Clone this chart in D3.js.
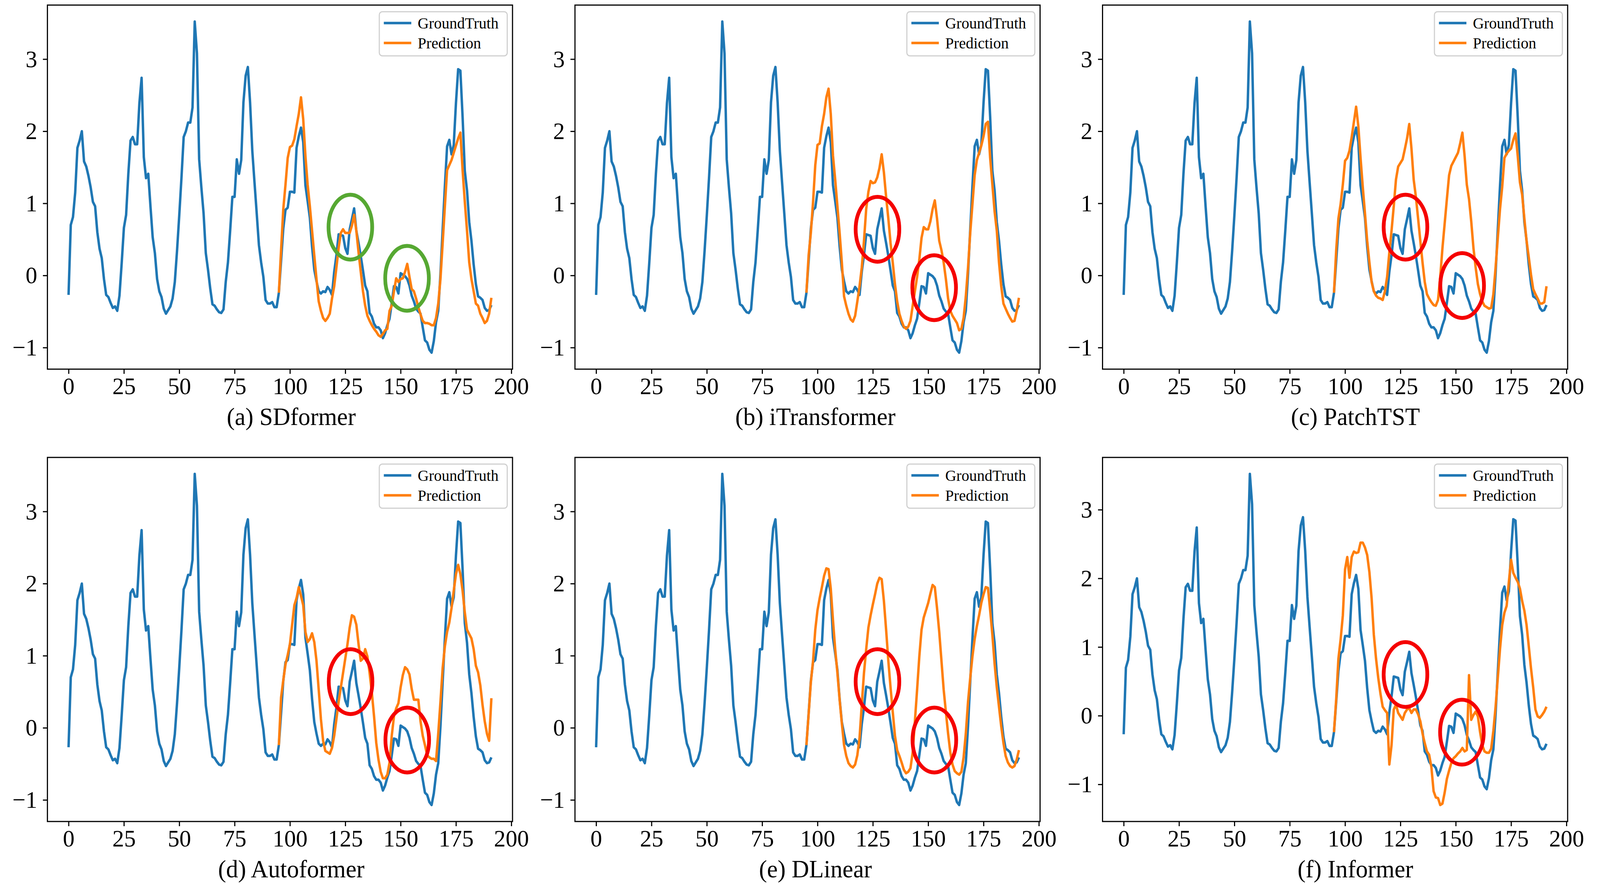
<!DOCTYPE html>
<html>
<head>
<meta charset="utf-8">
<script src="https://cdn.jsdelivr.net/npm/d3@7"></script>
<style>
  html, body { margin: 0; padding: 0; background: #fff; overflow: hidden; }
  svg { display: block; }
</style>
</head>
<body>
<div id="wrapper"></div>
<script>
// ground truth, time steps 0..191
const groundTruth = [
  -0.27, 0.70, 0.81, 1.15, 1.77, 1.87, 2.00, 1.58, 1.51, 1.38,
  1.22, 1.02, 0.96, 0.60, 0.37, 0.24, -0.05, -0.27, -0.30, -0.38,
  -0.45, -0.43, -0.49, -0.28, 0.17, 0.66, 0.84, 1.41, 1.87, 1.92,
  1.82, 1.82, 2.39, 2.74, 1.64, 1.35, 1.41, 0.96, 0.53, 0.31,
  -0.05, -0.22, -0.30, -0.46, -0.53, -0.48, -0.43, -0.32, -0.09, 0.34,
  0.83, 1.35, 1.92, 2.00, 2.12, 2.12, 2.33, 3.52, 3.08, 1.61,
  1.22, 0.86, 0.31, 0.08, -0.18, -0.40, -0.42, -0.47, -0.51, -0.52,
  -0.47, -0.09, 0.18, 0.62, 1.09, 1.09, 1.61, 1.41, 1.60, 2.40,
  2.77, 2.89, 2.40, 1.73, 1.29, 0.86, 0.42, 0.18, -0.02, -0.34,
  -0.39, -0.39, -0.37, -0.44, -0.44, -0.24, 0.20, 0.65, 0.91, 0.94,
  1.16, 1.16, 1.15, 1.77, 1.93, 2.05, 1.85, 1.25, 1.03, 0.80,
  0.40, 0.08, -0.08, -0.22, -0.25, -0.22, -0.23, -0.16, -0.20, -0.27,
  0.05, 0.28, 0.57, 0.56, 0.55, 0.38, 0.30, 0.64, 0.78, 0.93,
  0.62, 0.45, 0.27, 0.07, -0.14, -0.22, -0.52, -0.57, -0.67, -0.72,
  -0.72, -0.76, -0.87, -0.80, -0.69, -0.60, -0.38, -0.15, -0.16, -0.25,
  0.03, 0.01, -0.01, -0.05, -0.14, -0.28, -0.36, -0.46, -0.50, -0.53,
  -0.72, -0.90, -0.93, -1.03, -1.07, -0.91, -0.65, -0.49, 0.02, 0.64,
  1.24, 1.79, 1.88, 1.68, 1.81, 2.39, 2.86, 2.84, 2.20, 1.45,
  1.18, 0.74, 0.48, 0.15, -0.12, -0.29, -0.31, -0.34, -0.45, -0.49,
  -0.48, -0.41
]

// predictions, time steps 95..191
const predStart = 95
const sdformer = [
  -0.24, 0.35, 0.92, 1.26, 1.63, 1.78, 1.80, 1.89, 2.07, 2.24, 2.47,
  2.17, 1.66, 1.26, 0.96, 0.62, 0.28, -0.05, -0.36, -0.49, -0.59,
  -0.63, -0.59, -0.53, -0.32, -0.15, 0.11, 0.38, 0.59, 0.64, 0.59,
  0.59, 0.59, 0.69, 0.84, 0.62, 0.32, 0.05, -0.22, -0.42, -0.56,
  -0.63, -0.69, -0.74, -0.78, -0.83, -0.85, -0.81, -0.76, -0.74, -0.49,
  -0.42, -0.22, -0.04, -0.09, -0.05, -0.04, 0.05, 0.16, -0.02, -0.19,
  -0.22, -0.32, -0.44, -0.54, -0.63, -0.66, -0.66, -0.67, -0.69, -0.69,
  -0.59, -0.39, -0.05, 0.45, 0.96, 1.46, 1.53, 1.60, 1.70, 1.80,
  1.90, 1.98, 1.46, 1.02, 0.62, 0.18, -0.05, -0.22, -0.39, -0.42,
  -0.53, -0.59, -0.66, -0.63, -0.53, -0.31
]
const itransformer = [
  -0.24, 0.28, 0.59, 1.02, 1.53, 1.81, 1.83, 2.07, 2.24, 2.47, 2.59,
  2.24, 1.66, 1.33, 0.96, 0.59, 0.18, -0.29, -0.42, -0.53, -0.61,
  -0.64, -0.56, -0.36, -0.15, 0.11, 0.48, 0.92, 1.16, 1.31, 1.28,
  1.29, 1.36, 1.49, 1.68, 1.43, 1.09, 0.79, 0.45, 0.18, -0.12,
  -0.36, -0.53, -0.63, -0.71, -0.74, -0.71, -0.63, -0.42, -0.22, -0.02,
  0.22, 0.52, 0.67, 0.64, 0.64, 0.75, 0.92, 1.04, 0.79, 0.48,
  0.35, 0.18, -0.05, -0.32, -0.49, -0.56, -0.61, -0.66, -0.76, -0.74,
  -0.59, -0.29, 0.11, 0.59, 0.99, 1.39, 1.60, 1.70, 1.80, 1.93,
  2.10, 2.13, 1.63, 1.26, 0.89, 0.62, 0.18, -0.15, -0.39, -0.46,
  -0.53, -0.59, -0.64, -0.63, -0.49, -0.31
]
const patchtst = [
  -0.24, 0.35, 0.79, 0.99, 1.26, 1.59, 1.63, 1.73, 1.92, 2.13, 2.34,
  2.07, 1.63, 1.23, 0.86, 0.48, 0.18, -0.09, -0.22, -0.28, -0.31,
  -0.32, -0.34, -0.22, -0.02, 0.32, 0.62, 0.96, 1.33, 1.51, 1.56,
  1.61, 1.75, 1.90, 2.10, 1.76, 1.33, 1.09, 0.79, 0.48, 0.18,
  -0.09, -0.26, -0.32, -0.37, -0.41, -0.42, -0.34, -0.02, 0.38, 0.72,
  1.06, 1.39, 1.52, 1.58, 1.64, 1.70, 1.83, 1.98, 1.66, 1.26,
  1.06, 0.75, 0.38, 0.11, -0.12, -0.26, -0.36, -0.42, -0.44, -0.46,
  -0.45, -0.26, 0.11, 0.52, 0.92, 1.23, 1.63, 1.69, 1.73, 1.76,
  1.88, 1.97, 1.66, 1.29, 1.12, 0.79, 0.48, 0.25, 0.01, -0.19,
  -0.26, -0.32, -0.39, -0.39, -0.37, -0.15
]
const autoformer = [
  -0.24, 0.42, 0.66, 0.88, 1.01, 1.16, 1.43, 1.70, 1.80, 1.95, 1.83,
  1.70, 1.33, 1.19, 1.23, 1.31, 1.19, 0.93, 0.53, 0.12, -0.18,
  -0.32, -0.34, -0.36, -0.28, -0.11, 0.12, 0.36, 0.56, 0.76, 0.96,
  1.16, 1.39, 1.56, 1.54, 1.43, 1.16, 0.93, 0.96, 1.09, 0.99,
  0.76, 0.49, 0.16, -0.21, -0.44, -0.61, -0.70, -0.70, -0.65, -0.48,
  -0.11, 0.16, 0.27, 0.34, 0.56, 0.73, 0.84, 0.81, 0.74, 0.54,
  0.39, 0.39, 0.39, 0.09, -0.11, -0.24, -0.38, -0.41, -0.43, -0.43,
  -0.46, -0.08, 0.36, 0.83, 1.13, 1.33, 1.46, 1.66, 1.90, 2.13,
  2.26, 2.13, 1.90, 1.60, 1.36, 1.30, 1.24, 1.09, 0.86, 0.77,
  0.59, 0.32, 0.09, -0.08, -0.18, 0.41
]
const dlinear = [
  -0.24, 0.19, 0.63, 0.93, 1.36, 1.63, 1.80, 1.95, 2.11, 2.21, 2.20,
  1.93, 1.49, 1.09, 0.76, 0.39, 0.06, -0.24, -0.39, -0.49, -0.53,
  -0.55, -0.51, -0.38, -0.14, 0.32, 0.76, 1.09, 1.39, 1.56, 1.71,
  1.85, 2.00, 2.08, 2.06, 1.76, 1.36, 0.93, 0.56, 0.22, -0.11,
  -0.31, -0.39, -0.48, -0.58, -0.63, -0.61, -0.56, -0.34, 0.09, 0.53,
  0.99, 1.36, 1.53, 1.63, 1.73, 1.86, 1.98, 1.95, 1.66, 1.33,
  0.93, 0.53, 0.22, -0.08, -0.34, -0.51, -0.60, -0.63, -0.65, -0.61,
  -0.41, -0.08, 0.36, 0.69, 0.99, 1.23, 1.41, 1.56, 1.73, 1.85,
  1.95, 1.94, 1.63, 1.29, 0.89, 0.56, 0.29, 0.02, -0.21, -0.39,
  -0.48, -0.53, -0.55, -0.53, -0.44, -0.31
]
const informer = [
  -0.24, 0.24, 0.83, 1.11, 1.46, 2.13, 2.31, 2.01, 2.31, 2.39, 2.37,
  2.38, 2.52, 2.52, 2.45, 2.34, 2.09, 1.71, 1.18, 0.83, 0.55,
  0.32, 0.13, 0.08, 0.04, -0.71, -0.43, 0.09, 0.16, 0.04, -0.01,
  -0.06, 0.04, 0.09, 0.11, 0.04, 0.09, 0.09, 0.02, -0.08, -0.26,
  -0.40, -0.52, -0.57, -0.75, -1.10, -1.19, -1.20, -1.30, -1.28, -1.12,
  -0.92, -0.80, -0.69, -0.62, -0.59, -0.55, -0.52, -0.47, -0.52, -0.50,
  0.59, -0.06, 0.01, 0.06, -0.01, -0.24, -0.43, -0.52, -0.54, -0.54,
  -0.48, -0.22, 0.13, 0.55, 0.97, 1.32, 1.50, 1.60, 1.95, 2.27,
  2.08, 2.01, 1.95, 1.85, 1.67, 1.53, 1.32, 1.01, 0.69, 0.41,
  0.09, -0.01, -0.03, 0.01, 0.06, 0.13
]

const captions = ["(a) SDformer", "(b) iTransformer", "(c) PatchTST",
                  "(d) Autoformer", "(e) DLinear", "(f) Informer"]
const predictions = [sdformer, itransformer, patchtst, autoformer, dlinear, informer]
// highlighted spots [step, value] in each panel
const highlights = [
  [[127.3, 0.67], [152.9, -0.04]],
  [[127.1, 0.64], [152.7, -0.17]],
  [[127.3, 0.67], [152.9, -0.14]],
  [[127.4, 0.64], [153.0, -0.17]],
  [[127.1, 0.64], [152.8, -0.17]],
  [[127.3, 0.60], [152.8, -0.24]]
]
const xTicks = [0, 25, 50, 75, 100, 125, 150, 175, 200]
const yTicks = [-1, 0, 1, 2, 3]
const legendLabels = ["GroundTruth", "Prediction"]

const gtColor = "#1f77b4"
const predColor = "#ff7f0e"
const font = "'Liberation Serif', 'Times New Roman', serif"

const width = 4252
const height = 2263
const panel = { width: 1236, height: 932 }
const panelLefts = [126, 1528, 2930]
const panelTops = [13, 1171]
const captionCenters = [774, 2167, 3602]
const captionBaselines = [1088, 2246]

// scale the whole figure into whatever viewport we get
const svg = d3.select("#wrapper")
  .append("svg")
  .attr("viewBox", `0 0 ${width} ${height}`)
  .attr("preserveAspectRatio", "none")
  .style("width", "100vw")
  .style("height", "100vh")
  .style("font-family", font)

svg.append("rect")
  .attr("width", width)
  .attr("height", height)
  .attr("fill", "#fff")

predictions.forEach((pred, k) => {
  const col = k % 3
  const row = Math.floor(k / 3)
  const left = panelLefts[col]
  const top = panelTops[row]

  const g = svg.append("g")
    .attr("transform", `translate(${left},${top})`)

  // limits with 5% margins, like matplotlib
  const xMax = groundTruth.length - 1
  const xPad = xMax * 0.05
  const xScale = d3.scaleLinear()
    .domain([-xPad, xMax + xPad])
    .range([0, panel.width])

  const allVals = groundTruth.concat(pred)
  const [lo, hi] = d3.extent(allVals)
  const yPad = (hi - lo) * 0.05
  const yScale = d3.scaleLinear()
    .domain([lo - yPad, hi + yPad])
    .range([panel.height, 0])

  const line = d3.line()
    .x(d => xScale(d[0]))
    .y(d => yScale(d[1]))

  g.append("path")
    .attr("d", line(groundTruth.map((v, i) => [i, v])))
    .attr("fill", "none")
    .attr("stroke", gtColor)
    .attr("stroke-width", 6.5)
    .attr("stroke-linejoin", "round")

  g.append("path")
    .attr("d", line(pred.map((v, i) => [predStart + i, v])))
    .attr("fill", "none")
    .attr("stroke", predColor)
    .attr("stroke-width", 6.5)
    .attr("stroke-linejoin", "round")

  // highlight rings
  g.selectAll(".ring")
    .data(highlights[k])
    .join("ellipse")
    .attr("cx", d => xScale(d[0]))
    .attr("cy", d => yScale(d[1]))
    .attr("rx", 58)
    .attr("ry", 83)
    .attr("fill", "none")
    .attr("stroke", k === 0 ? "#56a832" : "#f50000")
    .attr("stroke-width", 10)

  // axes
  const xAxis = g.append("g")
    .attr("transform", `translate(0,${panel.height})`)
    .call(d3.axisBottom(xScale).tickValues(xTicks)
      .tickFormat(d3.format("d")).tickSize(12).tickPadding(8))
  const yAxis = g.append("g")
    .call(d3.axisLeft(yScale).tickValues(yTicks)
      .tickFormat(d3.format("d")).tickSize(12).tickPadding(15))
  ;[xAxis, yAxis].forEach(ax => {
    ax.select(".domain").remove()
    ax.selectAll("line").attr("stroke", "#000").attr("stroke-width", 3)
    ax.selectAll("text")
      .attr("fill", "#000")
      .style("font-family", font)
      .style("font-size", "62px")
  })

  g.append("rect")
    .attr("width", panel.width)
    .attr("height", panel.height)
    .attr("fill", "none")
    .attr("stroke", "#000")
    .attr("stroke-width", 3)

  // legend
  const legend = g.append("g")
    .attr("transform", `translate(${panel.width - 354},17)`)
  legend.append("rect")
    .attr("width", 340)
    .attr("height", 113)
    .attr("rx", 8)
    .attr("fill", "#fff")
    .attr("fill-opacity", 0.8)
    .attr("stroke", "#d0d0d0")
    .attr("stroke-width", 3)
  const items = legend.selectAll(".item")
    .data(legendLabels)
    .join("g")
    .attr("transform", (d, i) => `translate(0,${29 + i * 51})`)
  items.append("line")
    .attr("x1", 12)
    .attr("x2", 85)
    .attr("stroke", (d, i) => i === 0 ? gtColor : predColor)
    .attr("stroke-width", 6.5)
  items.append("text")
    .attr("x", 102)
    .attr("y", 14)
    .style("font-size", "41px")
    .text(d => d)

  svg.append("text")
    .attr("x", captionCenters[col])
    .attr("y", captionBaselines[row])
    .attr("text-anchor", "middle")
    .style("font-size", "64px")
    .text(captions[k])
})
</script>
</body>
</html>
